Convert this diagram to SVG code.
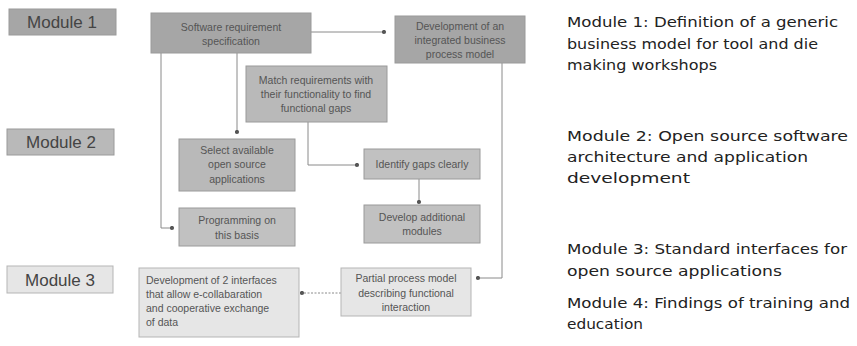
<svg xmlns="http://www.w3.org/2000/svg" width="857" height="346" viewBox="0 0 857 346">
<style>
.box{stroke:#9a9a9a;stroke-width:1}
.d1{fill:#a6a6a6}
.d2{fill:#b9b9b9}
.d3{fill:#c1c1c1}
.lt{fill:#e6e6e6;stroke:#b5b5b5}
.t{font-family:"Liberation Sans",Arial,sans-serif;font-size:10.5px;fill:#555;text-anchor:middle}
.tl{text-anchor:start}
.m{font-family:"Liberation Sans",Arial,sans-serif;font-size:17px;fill:#444;text-anchor:middle}
.r{font-family:"DejaVu Sans",sans-serif;font-size:14.5px;fill:#222}
.c{fill:none;stroke:#8a8a8a;stroke-width:1}
</style>
<defs>
<marker id="dot" viewBox="0 0 6 6" refX="3" refY="3" markerWidth="5" markerHeight="5" markerUnits="userSpaceOnUse">
<circle cx="3" cy="3" r="2.5" fill="#555"/>
</marker>
</defs>
<rect width="857" height="346" fill="#fff"/>
<g id="connectors">
<path class="c" d="M311 32 H384" marker-end="url(#dot)"/>
<path class="c" d="M161 53 V228 H172" marker-end="url(#dot)"/>
<path class="c" d="M237 53 V132" marker-end="url(#dot)"/>
<path class="c" d="M308 122 V165 H357" marker-end="url(#dot)"/>
<path class="c" d="M419 179 V202" marker-end="url(#dot)"/>
<path class="c" d="M502 63 V278 H478" marker-end="url(#dot)"/>
<path class="c" d="M341 293 H302" stroke-dasharray="2 1.5" marker-end="url(#dot)"/>
</g>
<g id="module1">
<rect class="box d1" x="9" y="9" width="107" height="26"/>
<text class="m" x="62" y="28">Module 1</text>
</g>
<g id="module2">
<rect class="box d2" x="7" y="129" width="107" height="26"/>
<text class="m" x="61" y="148">Module 2</text>
</g>
<g id="module3">
<rect class="box lt" x="7" y="266" width="106" height="27"/>
<text class="m" x="60" y="286">Module 3</text>
</g>
<g id="srs">
<rect class="box d1" x="151" y="13" width="160" height="40"/>
<text class="t" x="231" y="31">Software requirement</text>
<text class="t" x="231" y="45">specification</text>
</g>
<g id="devbpm">
<rect class="box d1" x="395" y="16" width="130" height="47"/>
<text class="t" x="460" y="30">Development of an</text>
<text class="t" x="460" y="44">integrated business</text>
<text class="t" x="460" y="58">process model</text>
</g>
<g id="match">
<rect class="box d2" x="246" y="66" width="141" height="56"/>
<text class="t" x="316" y="84">Match requirements with</text>
<text class="t" x="316" y="98">their functionality to find</text>
<text class="t" x="316" y="112">functional gaps</text>
</g>
<g id="select">
<rect class="box d2" x="179" y="139" width="116" height="52"/>
<text class="t" x="237" y="154">Select available</text>
<text class="t" x="237" y="168">open source</text>
<text class="t" x="237" y="183">applications</text>
</g>
<g id="identify">
<rect class="box d3" x="364" y="149" width="116" height="30"/>
<text class="t" x="422" y="168">Identify gaps clearly</text>
</g>
<g id="develop">
<rect class="box d3" x="364" y="205" width="116" height="38"/>
<text class="t" x="422" y="221">Develop additional</text>
<text class="t" x="422" y="235">modules</text>
</g>
<g id="programming">
<rect class="box d3" x="179" y="208" width="116" height="38"/>
<text class="t" x="237" y="224">Programming on</text>
<text class="t" x="237" y="239">this basis</text>
</g>
<g id="partial">
<rect class="box lt" x="341" y="268" width="130" height="48"/>
<text class="t" x="406" y="282">Partial process model</text>
<text class="t" x="406" y="297">describing functional</text>
<text class="t" x="406" y="311">interaction</text>
</g>
<g id="interfaces">
<rect class="box lt" x="139" y="268" width="160" height="69"/>
<text class="t tl" x="146" y="284">Development of 2 interfaces</text>
<text class="t tl" x="146" y="298">that allow e-collabaration</text>
<text class="t tl" x="146" y="312">and cooperative exchange</text>
<text class="t tl" x="146" y="326">of data</text>
</g>
<g id="legend">
<text class="r" x="567" y="27" textLength="271" lengthAdjust="spacingAndGlyphs">Module 1: Definition of a generic</text>
<text class="r" x="567" y="49" textLength="251" lengthAdjust="spacingAndGlyphs">business model for tool and die</text>
<text class="r" x="567" y="70" textLength="150" lengthAdjust="spacingAndGlyphs">making workshops</text>
<text class="r" x="567" y="141" textLength="281" lengthAdjust="spacingAndGlyphs">Module 2: Open source software</text>
<text class="r" x="567" y="162" textLength="241" lengthAdjust="spacingAndGlyphs">architecture and application</text>
<text class="r" x="567" y="183" textLength="123" lengthAdjust="spacingAndGlyphs">development</text>
<text class="r" x="567" y="254" textLength="280" lengthAdjust="spacingAndGlyphs">Module 3: Standard interfaces for</text>
<text class="r" x="567" y="276" textLength="215" lengthAdjust="spacingAndGlyphs">open source applications</text>
<text class="r" x="567" y="308" textLength="283" lengthAdjust="spacingAndGlyphs">Module 4: Findings of training and</text>
<text class="r" x="567" y="329" textLength="76" lengthAdjust="spacingAndGlyphs">education</text>
</g>
</svg>
